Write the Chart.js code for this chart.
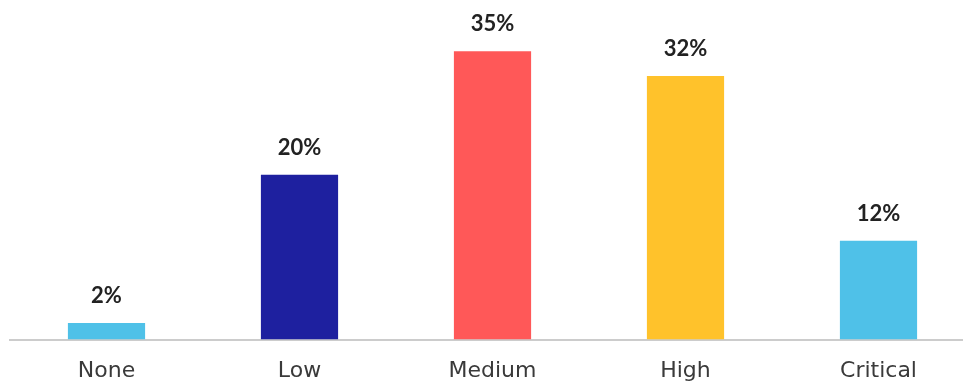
<!DOCTYPE html>
<html>
<head>
<meta charset="utf-8">
<script src="https://cdn.jsdelivr.net/npm/chart.js@4"></script>
<style>
  html, body { margin: 0; padding: 0; background: #fff; overflow: hidden; }
  #wrap { width: 980px; height: 385px; }
</style>
</head>
<body>
<div id="wrap"><canvas id="riskChart" width="980" height="385"></canvas></div>
<script>
const categories = ['None', 'Low', 'Medium', 'High', 'Critical'];
const shares = [2, 20, 35, 32, 12];
const barColors = ['#4fc1e8', '#1e209f', '#ff5858', '#ffc22b', '#4fc1e8'];

// percentage labels above each bar
const valueLabels = {
    id: 'valueLabels',
    afterDatasetsDraw(chart) {
        const ctx = chart.ctx;
        const meta = chart.getDatasetMeta(0);
        ctx.save();
        ctx.font = 'bold 22px Lato, "DejaVu Sans", sans-serif';
        ctx.fillStyle = '#222';
        ctx.textAlign = 'center';
        ctx.textBaseline = 'bottom';
        meta.data.forEach((bar, i) => {
            ctx.fillText(shares[i] + '%', bar.x, bar.y - 16);
        });
        ctx.restore();
    }
};

const ctx = document.getElementById('riskChart').getContext('2d');
new Chart(ctx, {
    type: 'bar',
    data: {
        labels: categories,
        datasets: [{
            data: shares,
            backgroundColor: barColors,
            borderWidth: 0,
            categoryPercentage: 1,
            barPercentage: 0.4
        }]
    },
    options: {
        responsive: false,
        animation: false,
        layout: { padding: { left: 10, right: 5, top: 10, bottom: -17 } },
        plugins: {
            legend: { display: false },
            tooltip: { enabled: false }
        },
        scales: {
            x: {
                grid: { display: false, drawTicks: false },
                border: { display: true, color: '#cccccc', width: 2 },
                ticks: {
                    color: '#3a3a3a',
                    padding: 18,
                    font: { family: '"DejaVu Sans", sans-serif', size: 22 }
                }
            },
            y: {
                display: false,
                min: 0,
                max: 40
            }
        }
    },
    plugins: [valueLabels]
});
</script>
</body>
</html>
